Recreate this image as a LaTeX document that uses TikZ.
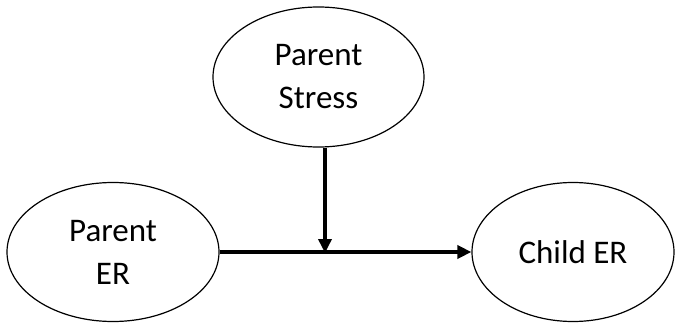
\documentclass[tikz,border=0pt]{standalone}
\usepackage{fontspec}
\setmainfont{Carlito}
\usetikzlibrary{shapes.geometric,arrows.meta}
\begin{document}
\begin{tikzpicture}[x=1pt,y=1pt,
  ell/.style={draw,ellipse,line width=1.2pt,inner sep=0pt,font=\fontsize{33}{43}\selectfont,align=center},
  conn/.style={line width=4pt,-{Triangle[length=14pt,width=13pt]}}]
\useasboundingbox (0,0) rectangle (675,322);
\node[ell,minimum width=211pt,minimum height=140pt] (ps) at (318.5,245) {Parent\\Stress};
\node[ell,minimum width=212pt,minimum height=139pt] (per) at (113,70) {Parent\\ER};
\node[ell,minimum width=202pt,minimum height=139pt] (cer) at (573,70) {Child ER};
\coordinate (mid) at (325,70);
\draw[conn] (per.east) -- (cer.west);
\draw[conn,shorten >=-1pt] (ps.south -| mid) -- (mid);
\end{tikzpicture}
\end{document}
